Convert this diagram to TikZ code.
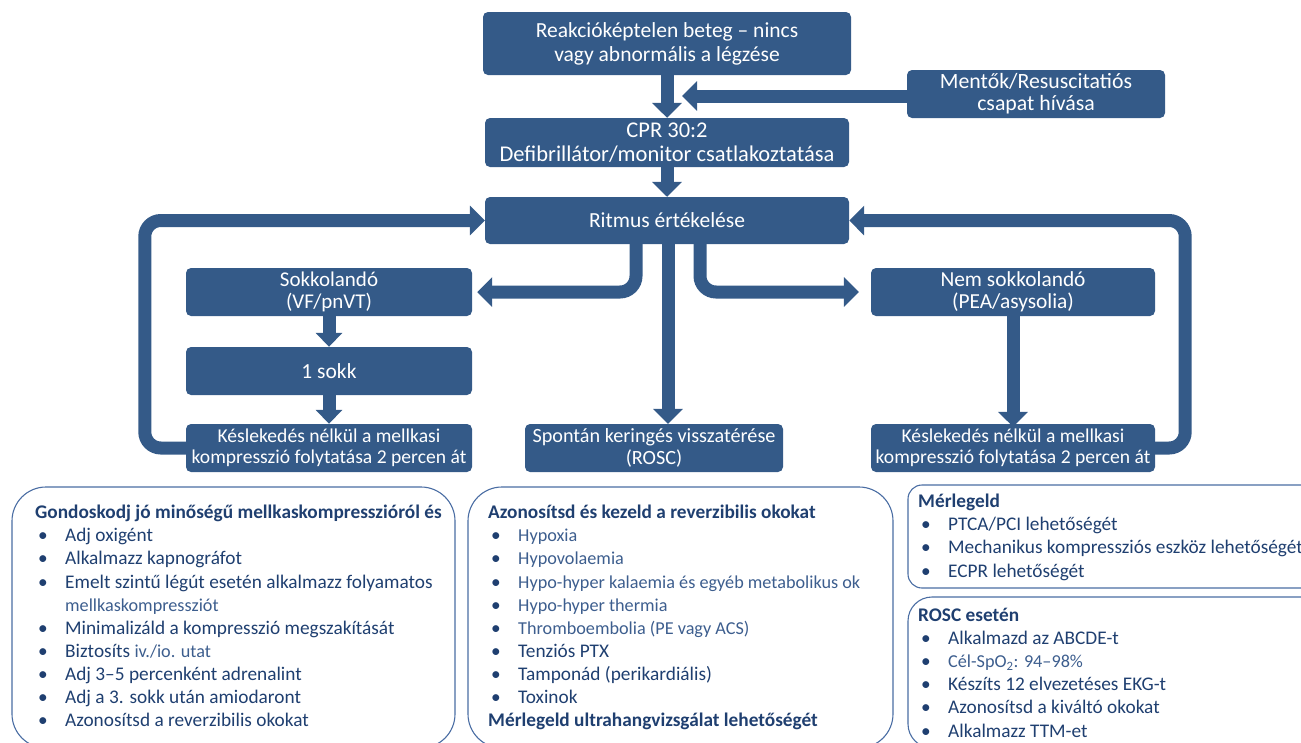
\documentclass[tikz,border=0pt]{standalone}
\usepackage{fontspec}
\setmainfont{Carlito}
\usepackage{tikz}
\usetikzlibrary{arrows.meta}
\definecolor{boxblue}{HTML}{345A88}
\definecolor{textblue}{HTML}{1F3F70}
\definecolor{lightblue}{HTML}{3D5E8E}
\definecolor{lineblue}{HTML}{4A6DA3}
\newcommand{\itm}[1]{\hspace{3pt}\makebox[27pt][l]{\textbullet}#1}
\newcommand{\fs}[1]{\fontsize{#1}{23.1}\selectfont}
\newcommand{\lite}[1]{{\fs{18.2}\color{lightblue}#1}}
\tikzset{
  block/.style = {align=center, inner sep=0pt, text centered, rounded corners=5pt,
    fill=boxblue, text=white, font=\fontsize{21.5}{23}\selectfont},% kék doboz
  flow/.style = {draw=boxblue, line width=13pt, rounded corners=16pt,
    -{Triangle[width=29pt,length=15pt]}},% vastag nyíl
  panel/.style = {draw=lineblue, line width=1.1pt, inner sep=0pt},% keret
  list/.style = {align=left, inner sep=0pt, anchor=north west, text=textblue,
    font=\fontsize{19.3}{23.1}\selectfont}% felsorolás
}

\begin{document}
\begin{tikzpicture}[x=1pt,y=-1pt]
\useasboundingbox (0,0) rectangle (1301,742);
\node [block, minimum width=368pt, minimum height=63pt,
  font=\fontsize{21.5}{24}\selectfont] (reak) at (667,43.5)
  {Reakcióképtelen beteg – nincs\\vagy abnormális a légzése};
\node [block, minimum width=258pt, minimum height=48pt,
  font=\fontsize{21.8}{22}\selectfont] (mentok) at (1036,94)
  {Mentők/Resuscitatiós\\csapat hívása};
\node [block, minimum width=364pt, minimum height=49pt,
  font=\fontsize{22.5}{24}\selectfont] (cpr) at (667,142.5)
  {CPR 30:2\\Defibrillátor/monitor csatlakoztatása};
\node [block, minimum width=364pt, minimum height=47pt] (ritmus) at (667,220.5)
  {Ritmus értékelése};
\node [block, minimum width=286pt, minimum height=48pt,
  font=\fontsize{21}{21.5}\selectfont] (sokk) at (329,292)
  {Sokkolandó\\(VF/pnVT)};
\node [block, minimum width=286pt, minimum height=48pt] (egysokk) at (329,371)
  {1 sokk};
\node [block, minimum width=286pt, minimum height=48pt,
  font=\fontsize{19.6}{20.5}\selectfont] (kesl1) at (329,448)
  {Késlekedés nélkül a mellkasi\\kompresszió folytatása 2 percen át};
\node [block, minimum width=258pt, minimum height=48pt,
  font=\fontsize{20.2}{21.5}\selectfont] (rosc) at (654,448)
  {Spontán keringés visszatérése\\(ROSC)};
\node [block, minimum width=284pt, minimum height=48pt,
  font=\fontsize{21.4}{21.5}\selectfont] (nem) at (1013,292)
  {Nem sokkolandó\\(PEA/asysolia)};
\node [block, minimum width=284pt, minimum height=48pt,
  font=\fontsize{19.6}{20.5}\selectfont] (kesl2) at (1013,448)
  {Késlekedés nélkül a mellkasi\\kompresszió folytatása 2 percen át};
\coordinate (join) at (682,96);

% nyilak
\draw [flow] (reak.south) -- (cpr.north);
\draw [flow] (mentok.west |- join) -- (join);
\draw [flow] (cpr.south) -- (ritmus.north);
\draw [flow, shorten >=5pt] ([xshift=-31pt]ritmus.south) |- (sokk.east);
\draw [flow] ([xshift=1pt]ritmus.south) -- ([xshift=1pt]ritmus.south |- rosc.north);
\draw [flow, shorten >=12pt] ([xshift=33pt]ritmus.south) |- (nem.west);
\draw [flow, -{Triangle[width=26pt,length=14pt]}] (sokk.south) -- (egysokk.north);
\draw [flow, -{Triangle[width=26pt,length=14pt]}] (egysokk.south) -- (kesl1.north);
\draw [flow] (nem.south) -- ([yshift=-3pt]kesl2.north);
\draw [flow] (kesl1.west) -- ++(-41,0) |- (ritmus.west);
\draw [flow] (kesl2.east) -- ++(30,0) |- (ritmus.east);

% keretek
\node [panel, rounded corners=34pt, minimum width=443pt, minimum height=261pt]
  (balpanel) at (233.5,617.5) {};
\node [panel, rounded corners=34pt, minimum width=425pt, minimum height=261pt]
  (kozpanel) at (680.5,617.5) {};
\node [panel, rounded corners=14pt, minimum width=422pt, minimum height=103pt]
  (merpanel) at (1119,536.5) {};
\node [panel, rounded corners=24pt, minimum width=422pt, minimum height=151pt]
  (roscpanel) at (1119,672.5) {};

\node [list] (ballist) at (35,505) {%
  \textbf{Gondoskodj jó minőségű mellkaskompresszióról és}\\
  \itm{Adj oxigént}\\
  \itm{Alkalmazz kapnográfot}\\
  \itm{Emelt szintű légút esetén alkalmazz folyamatos}\\
  \hspace{30pt}\lite{mellkaskompressziót}\\
  \itm{Minimalizáld a kompresszió megszakítását}\\
  \itm{Biztosíts \lite{iv./io. utat}}\\
  \itm{Adj 3–5 percenként adrenalint}\\
  \itm{Adj a 3. sokk után amiodaront}\\
  \itm{Azonosítsd a reverzibilis okokat}};
\node [list] (kozlist) at (488,505) {%
  \textbf{Azonosítsd és kezeld a reverzibilis okokat}\\
  \itm{\lite{Hypoxia}}\\
  \itm{\lite{Hypovolaemia}}\\
  \itm{\lite{Hypo-hyper kalaemia és egyéb metabolikus ok}}\\
  \itm{\lite{Hypo-hyper thermia}}\\
  \itm{\lite{Thromboembolia (PE vagy ACS)}}\\
  \itm{Tenziós PTX}\\
  \itm{Tamponád (perikardiális)}\\
  \itm{Toxinok}\\
  \textbf{Mérlegeld ultrahangvizsgálat lehetőségét}};
\node [list] (merlist) at (918,494) {%
  \textbf{Mérlegeld}\\
  \itm{PTCA/PCI lehetőségét}\\
  \itm{Mechanikus kompressziós eszköz lehetőségét}\\
  \itm{ECPR lehetőségét}};
\node [list] (rosclist) at (918,608) {%
  \textbf{ROSC esetén}\\
  \itm{Alkalmazd az ABCDE-t}\\
  \itm{\lite{Cél-SpO\textsubscript{2}: 94–98\%}}\\
  \itm{Készíts 12 elvezetéses EKG-t}\\
  \itm{Azonosítsd a kiváltó okokat}\\
  \itm{Alkalmazz TTM-et}};
\end{tikzpicture}
\end{document}
